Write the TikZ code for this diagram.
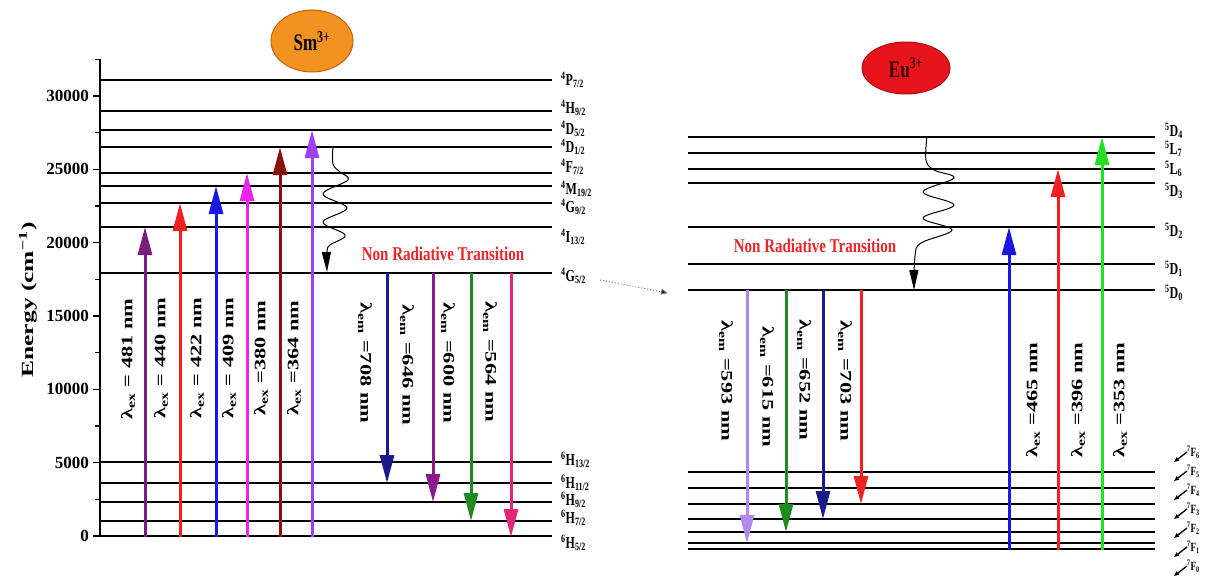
\documentclass[tikz,border=0pt]{standalone}
\usepackage{fontspec}
\setmainfont{Liberation Serif}
\usetikzlibrary{arrows.meta,shapes.geometric}

% spectroscopic term symbol: multiplicity, letter, J
\newcommand\term[3]{\textsuperscript{#1}#2\textsubscript{#3}}

\definecolor{cPurple}{HTML}{7A1E7E}
\definecolor{cRed}{HTML}{EE2222}
\definecolor{cBlue}{HTML}{1818E0}
\definecolor{cMagenta}{HTML}{EE22EE}
\definecolor{cBrown}{HTML}{8B1010}
\definecolor{cViolet}{HTML}{A040F0}
\definecolor{cNavy}{HTML}{1A1A8C}
\definecolor{cPlum}{HTML}{8B1A8B}
\definecolor{cGreen}{HTML}{1E8B1E}
\definecolor{cPink}{HTML}{E0287A}
\definecolor{cLavender}{HTML}{B088F0}
\definecolor{cLime}{HTML}{22E022}
\definecolor{cOrange}{HTML}{F39220}
\definecolor{cOrangeEdge}{HTML}{C06010}
\definecolor{cEu}{HTML}{E8141C}
\definecolor{cNRT}{HTML}{E8262B}

\tikzset{
  lvl/.style={line width=2.6pt},
  trans/.style={line width=3pt, -{Triangle[length=28pt,width=14pt]}},
  wlab/.style={font=\fontsize{16}{16}\selectfont\bfseries, inner sep=0pt},
  lvlab/.style={font=\fontsize{12}{12}\selectfont\bfseries, anchor=west, inner sep=0pt},
  flab/.style={font=\fontsize{9}{9}\selectfont\bfseries, anchor=west, inner sep=0pt},
  ticklab/.style={font=\fontsize{17}{17}\selectfont\bfseries, anchor=east, inner sep=0pt},
  nrt/.style={font=\fontsize{15}{15}\selectfont\bfseries, text=cNRT, inner sep=0pt},
  wave/.style={line width=1pt, -{Triangle[length=20pt,width=9pt]}},
  ion/.style={ellipse, draw, line width=1pt, font=\fontsize{17}{17}\selectfont\bfseries, inner sep=0pt}
}

\begin{document}
\begin{tikzpicture}[x=1pt,y=-1pt]
\useasboundingbox (0,0) rectangle (1205,579);

% ---------------- Sm3+ panel ----------------
% energy axis (14.666 pt per 1000 cm^-1)
\draw[line width=2.2pt] (100,59) coordinate (axtop) -- (100,537) coordinate (axbot);
\foreach \k/\t in {0/0, 5/5000, 10/10000, 15/15000, 20/20000, 25/25000, 30/30000} {
  \draw[line width=1.5pt] (93,{536-\k*14.666}) -- (100,{536-\k*14.666});
  \node[ticklab] (tk\k) at (89,{536-\k*14.666}) {\t};
}
\foreach \k in {2.5,7.5,...,32.5} {
  \draw[line width=1.5pt] (95,{536-\k*14.666}) -- (100,{536-\k*14.666});
}
\node[rotate=90, font=\fontsize{17}{17}\selectfont\bfseries, inner sep=0pt] (ylab) at (28,300)
  {\scalebox{1.5}[1]{Energy (cm\textsuperscript{−1})}};

% Sm3+ levels
\foreach \n/\y in {p/80, h/111, da/130, db/147, f/173, m/186, g/203, i/227, gf/273,
                   ha/462, hb/483, hc/502, hd/521, he/536} {
  \draw[lvl] (100,\y) coordinate (S\n a) -- (552,\y) coordinate (S\n b);
}
\foreach \n/\y/\t in {p/80/{\term{4}{P}{7/2}}, h/108/{\term{4}{H}{9/2}}, da/129/{\term{4}{D}{5/2}},
    db/147/{\term{4}{D}{1/2}}, f/167/{\term{4}{F}{7/2}}, m/189/{\term{4}{M}{19/2}},
    g/207/{\term{4}{G}{9/2}}, i/237/{\term{4}{I}{13/2}}, gf/276/{\term{4}{G}{5/2}},
    ha/460/{\term{6}{H}{13/2}}, hb/483/{\term{6}{H}{11/2}}, hc/500/{\term{6}{H}{9/2}},
    hd/518/{\term{6}{H}{7/2}}, he/543/{\term{6}{H}{5/2}}} {
  \node[lvlab] (SL\n) at (561,\y) {\scalebox{1}[1.4]{\t}};
}

% Sm3+ ion badge
\node[ion, fill=cOrange, draw=cOrangeEdge, minimum width=82pt, minimum height=62pt] (sm) at (312,41)
  {\scalebox{1}[1.4]{Sm\textsuperscript{3+}}};

% excitation arrows (Sm3+)
\foreach \n/\x/\yt/\c in {481/145/227/cPurple, 440/180/203/cRed, 422/216/186/cBlue,
                           409/247/173/cMagenta, 380/280/147/cBrown, 364/312/130/cViolet} {
  \coordinate (xs\n) at (\x,537);
  \coordinate (xe\n) at (\x,\yt);
  \draw[trans, \c] (xs\n) -- (xe\n);
}
\node[wlab, rotate=90] (lx481) at (128,359) {\scalebox{1.4}[1]{λ\textsubscript{ex} = 481 nm}};
\node[wlab, rotate=90] (lx440) at (161,358) {\scalebox{1.4}[1]{λ\textsubscript{ex} = 440 nm}};
\node[wlab, rotate=90] (lx422) at (197,358) {\scalebox{1.4}[1]{λ\textsubscript{ex} = 422 nm}};
\node[wlab, rotate=90] (lx409) at (229,358) {\scalebox{1.4}[1]{λ\textsubscript{ex} = 409 nm}};
\node[wlab, rotate=90] (lx380) at (261,358) {\scalebox{1.4}[1]{λ\textsubscript{ex} =380 nm}};
\node[wlab, rotate=90] (lx364) at (294,358) {\scalebox{1.4}[1]{λ\textsubscript{ex} =364 nm}};

% emission arrows (Sm3+)
\foreach \n/\x/\yt/\c in {708/387/483/cNavy, 646/433/502/cPlum, 600/471/521/cGreen, 564/511/537/cPink} {
  \coordinate (es\n) at (\x,273);
  \coordinate (ee\n) at (\x,\yt);
  \draw[trans, \c] (es\n) -- (ee\n);
}
\node[wlab, rotate=-90] (le708) at (365,363) {\scalebox{1.4}[1]{λ\textsubscript{em} =708 nm}};
\node[wlab, rotate=-90] (le646) at (407,365) {\scalebox{1.4}[1]{λ\textsubscript{em} =646 nm}};
\node[wlab, rotate=-90] (le600) at (448,363) {\scalebox{1.4}[1]{λ\textsubscript{em} =600 nm}};
\node[wlab, rotate=-90] (le564) at (490,362) {\scalebox{1.4}[1]{λ\textsubscript{em} =564 nm}};

% non-radiative relaxation (Sm3+)
\coordinate (wsS) at (333,147);
\coordinate (weS) at (327,272);
\draw[wave] plot[smooth, tension=0.6] coordinates {(wsS) (333,164) (340,172) (348,180) (323,194)
  (347,208) (323,222) (345,235) (330,245) (327,252) (weS)};
\node[nrt] (nrtS) at (443,254) {\scalebox{1}[1.3]{Non Radiative Transition}};

% link from 4G5/2 to 5D0
\coordinate (lkS) at (600,280);
\coordinate (lkE) at (668,293);
\draw[gray, dotted, line width=1pt, -{Triangle[length=7pt,width=6pt,fill=black]}] (lkS) -- (lkE);

% ---------------- Eu3+ panel ----------------
\foreach \n/\y in {da/137, lb/153, la/169, dc/183, db/227, dd/264, de/290,
                   f6/472, f5/488, f4/504, f3/519, f2/532, f1/543, f0/549} {
  \draw[lvl] (688,\y) coordinate (E\n a) -- (1155,\y) coordinate (E\n b);
}
\foreach \n/\y/\t in {da/131/{\term{5}{D}{4}}, lb/149/{\term{5}{L}{7}}, la/169/{\term{5}{L}{6}},
    dc/191/{\term{5}{D}{3}}, db/231/{\term{5}{D}{2}}, dd/269/{\term{5}{D}{1}}, de/293/{\term{5}{D}{0}}} {
  \node[lvlab] (EL\n) at (1165,\y) {\scalebox{1}[1.4]{\t}};
}
\foreach \j/\y in {6/452, 5/471, 4/490, 3/509, 2/528, 1/547, 0/566} {
  \node[flab] (F\j) at (1187,\y) {\scalebox{1}[1.4]{\term{7}{F}{\j}}};
  \draw[line width=1.3pt, -{Triangle[length=5pt,width=4pt]}] (F\j.west) -- ++(-13,10);
}

\node[ion, fill=cEu, draw=cEu!70!black, minimum width=88pt, minimum height=52pt,
      text=black!80!red] (eu) at (906,68) {\scalebox{1}[1.4]{Eu\textsuperscript{3+}}};

% emission arrows (Eu3+)
\foreach \n/\x/\yt/\c in {593/747/543/cLavender, 615/786/532/cGreen, 652/823/519/cNavy, 703/861/504/cRed} {
  \coordinate (fs\n) at (\x,290);
  \coordinate (fe\n) at (\x,\yt);
  \draw[trans, \c] (fs\n) -- (fe\n);
}
\node[wlab, rotate=-90] (lf593) at (726,381) {\scalebox{1.4}[1]{λ\textsubscript{em} =593 nm}};
\node[wlab, rotate=-90] (lf615) at (767,387) {\scalebox{1.4}[1]{λ\textsubscript{em} =615 nm}};
\node[wlab, rotate=-90] (lf652) at (804,380) {\scalebox{1.4}[1]{λ\textsubscript{em} =652 nm}};
\node[wlab, rotate=-90] (lf703) at (845,381) {\scalebox{1.4}[1]{λ\textsubscript{em} =703 nm}};

% excitation arrows (Eu3+)
\foreach \n/\x/\yt/\c in {465/1009/227/cBlue, 396/1058/169/cRed, 353/1102/137/cLime} {
  \coordinate (gs\n) at (\x,550);
  \coordinate (ge\n) at (\x,\yt);
  \draw[trans, \c] (gs\n) -- (ge\n);
}
\node[wlab, rotate=90] (lg465) at (1033,400) {\scalebox{1.4}[1]{λ\textsubscript{ex} =465 nm}};
\node[wlab, rotate=90] (lg396) at (1078,400) {\scalebox{1.4}[1]{λ\textsubscript{ex} =396 nm}};
\node[wlab, rotate=90] (lg353) at (1120,400) {\scalebox{1.4}[1]{λ\textsubscript{ex} =353 nm}};

% non-radiative relaxation (Eu3+)
\coordinate (wsE) at (927,136);
\coordinate (weE) at (914,290);
\draw[wave] plot[smooth, tension=0.6] coordinates {(wsE) (926,160) (934,170) (954,178) (923,192)
  (954,205) (923,218) (952,230) (921,243) (915,256) (weE)};
\node[nrt] (nrtE) at (815,246) {\scalebox{1}[1.3]{Non Radiative Transition}};

\end{tikzpicture}
\end{document}
